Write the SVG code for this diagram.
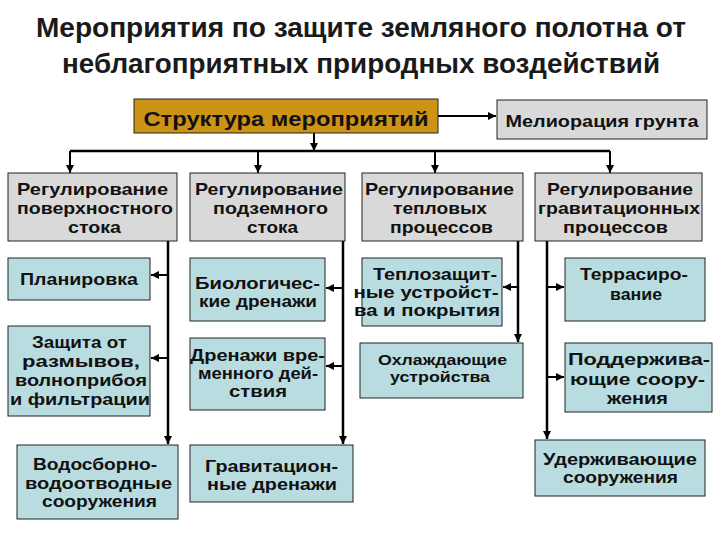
<svg xmlns="http://www.w3.org/2000/svg" width="720" height="540" viewBox="0 0 720 540">
<style>
.t{font-family:"Liberation Sans Narrow","Liberation Sans",Arial,sans-serif;font-weight:bold;font-size:28px;fill:#1a1a1a;text-anchor:middle}
.b{font-family:"Liberation Sans",Arial,sans-serif;font-weight:bold;font-size:17px;fill:#111;text-anchor:middle}
.m{font-size:16px}
.s{font-size:14.5px}
.gold{fill:#CD9317;stroke:#222;stroke-width:1}
.gray{fill:#D9D9D9;stroke:#222;stroke-width:1}
.blue{fill:#B9DCE0;stroke:#222;stroke-width:1}
.c{stroke:#000;stroke-width:2.5;fill:none}
.a{stroke:#000;stroke-width:2;fill:none}
</style>
<defs>
<marker id="ar" viewBox="0 0 10 10" refX="10" refY="5" markerWidth="9" markerHeight="8" markerUnits="userSpaceOnUse" orient="auto">
<path d="M0,0 L10,5 L0,10 z" fill="#000"/>
</marker>
</defs>
<rect width="720" height="540" fill="#fff"/>
<g id="title">
<text class="t" x="361" y="37" textLength="650" lengthAdjust="spacingAndGlyphs">Мероприятия по защите земляного полотна от</text>
<text class="t" x="361" y="73" textLength="598" lengthAdjust="spacingAndGlyphs">неблагоприятных природных воздействий</text>
</g>
<g id="connectors">
<line class="a" x1="438" y1="116" x2="496" y2="116" marker-end="url(#ar)"/>
<line class="a" x1="314" y1="133" x2="314" y2="151" marker-end="url(#ar)"/>
<line class="c" x1="70" y1="151" x2="610" y2="151"/>
<line class="a" x1="70" y1="151" x2="70" y2="173" marker-end="url(#ar)"/>
<line class="a" x1="258" y1="151" x2="258" y2="173" marker-end="url(#ar)"/>
<line class="a" x1="435" y1="151" x2="435" y2="173" marker-end="url(#ar)"/>
<line class="a" x1="610" y1="151" x2="610" y2="173" marker-end="url(#ar)"/>
<line class="c" x1="168" y1="241" x2="168" y2="444" marker-end="url(#ar)"/>
<line class="a" x1="168" y1="275" x2="151" y2="275" marker-end="url(#ar)"/>
<line class="a" x1="168" y1="358" x2="151" y2="358" marker-end="url(#ar)"/>
<line class="c" x1="343" y1="241" x2="343" y2="444" marker-end="url(#ar)"/>
<line class="a" x1="343" y1="288" x2="326" y2="288" marker-end="url(#ar)"/>
<line class="a" x1="343" y1="366" x2="326" y2="366" marker-end="url(#ar)"/>
<line class="c" x1="518" y1="241" x2="518" y2="342" marker-end="url(#ar)"/>
<line class="a" x1="518" y1="287" x2="503" y2="287" marker-end="url(#ar)"/>
<line class="c" x1="547" y1="241" x2="547" y2="439" marker-end="url(#ar)"/>
<line class="a" x1="547" y1="287" x2="564" y2="287" marker-end="url(#ar)"/>
<line class="a" x1="547" y1="377" x2="564" y2="377" marker-end="url(#ar)"/>
</g>
<g id="struct">
<rect class="gold" x="134" y="99" width="304" height="34"/>
<text class="b" x="286" y="126" style="font-size:20px" textLength="285" lengthAdjust="spacingAndGlyphs">Структура мероприятий</text>
</g>
<g id="melior">
<rect class="gray" x="497" y="100" width="210" height="39"/>
<text class="b" x="602" y="127" style="font-size:16px" textLength="193" lengthAdjust="spacingAndGlyphs">Мелиорация грунта</text>
</g>
<g id="reg1">
<rect class="gray" x="8" y="173" width="169" height="68"/>
<text class="b" x="92.5" y="195" textLength="151" lengthAdjust="spacingAndGlyphs">Регулирование</text>
<text class="b" x="95" y="214" textLength="156" lengthAdjust="spacingAndGlyphs">поверхностного</text>
<text class="b" x="94.5" y="233" textLength="53" lengthAdjust="spacingAndGlyphs">стока</text>
</g>
<g id="reg2">
<rect class="gray" x="190" y="173" width="155" height="68"/>
<text class="b" x="269" y="195" textLength="148" lengthAdjust="spacingAndGlyphs">Регулирование</text>
<text class="b" x="270.5" y="214" textLength="115" lengthAdjust="spacingAndGlyphs">подземного</text>
<text class="b" x="272.5" y="233" textLength="51" lengthAdjust="spacingAndGlyphs">стока</text>
</g>
<g id="reg3">
<rect class="gray" x="362" y="173" width="161" height="68"/>
<text class="b" x="439.5" y="195" textLength="149" lengthAdjust="spacingAndGlyphs">Регулирование</text>
<text class="b" x="440" y="214" textLength="94" lengthAdjust="spacingAndGlyphs">тепловых</text>
<text class="b" x="441.5" y="233" textLength="103" lengthAdjust="spacingAndGlyphs">процессов</text>
</g>
<g id="reg4">
<rect class="gray" x="535" y="173" width="167" height="68"/>
<text class="b" x="620" y="195" textLength="146" lengthAdjust="spacingAndGlyphs">Регулирование</text>
<text class="b" x="619" y="214" textLength="162" lengthAdjust="spacingAndGlyphs">гравитационных</text>
<text class="b" x="615.5" y="233" textLength="105" lengthAdjust="spacingAndGlyphs">процессов</text>
</g>
<g id="plan">
<rect class="blue" x="8" y="258" width="142" height="42"/>
<text class="b" x="79" y="285" textLength="118" lengthAdjust="spacingAndGlyphs">Планировка</text>
</g>
<g id="zashch">
<rect class="blue" x="8" y="326" width="142" height="90"/>
<text class="b" x="79.5" y="348" textLength="95" lengthAdjust="spacingAndGlyphs">Защита от</text>
<text class="b" x="81" y="367" textLength="118" lengthAdjust="spacingAndGlyphs">размывов,</text>
<text class="b" x="81" y="386" textLength="132" lengthAdjust="spacingAndGlyphs">волноприбоя</text>
<text class="b" x="80" y="405" textLength="140" lengthAdjust="spacingAndGlyphs">и фильтрации</text>
</g>
<g id="vodosb">
<rect class="blue" x="17" y="445" width="161" height="74"/>
<text class="b m" x="95" y="470" textLength="124" lengthAdjust="spacingAndGlyphs">Водосборно-</text>
<text class="b m" x="98.5" y="489" textLength="147" lengthAdjust="spacingAndGlyphs">водоотводные</text>
<text class="b m" x="99.5" y="507" textLength="115" lengthAdjust="spacingAndGlyphs">сооружения</text>
</g>
<g id="bio">
<rect class="blue" x="190" y="258" width="135" height="63"/>
<text class="b m" x="257.5" y="289" textLength="125" lengthAdjust="spacingAndGlyphs">Биологичес-</text>
<text class="b m" x="258" y="307" textLength="118" lengthAdjust="spacingAndGlyphs">кие дренажи</text>
</g>
<g id="vrem">
<rect class="blue" x="190" y="338" width="135" height="72"/>
<text class="b m" x="257.5" y="361" textLength="135" lengthAdjust="spacingAndGlyphs">Дренажи вре-</text>
<text class="b m" x="258" y="379" textLength="120" lengthAdjust="spacingAndGlyphs">менного дей-</text>
<text class="b m" x="258" y="397" textLength="58" lengthAdjust="spacingAndGlyphs">ствия</text>
</g>
<g id="grav">
<rect class="blue" x="190" y="445" width="163" height="57"/>
<text class="b m" x="271.5" y="472" textLength="133" lengthAdjust="spacingAndGlyphs">Гравитацион-</text>
<text class="b m" x="272" y="490" textLength="130" lengthAdjust="spacingAndGlyphs">ные дренажи</text>
</g>
<g id="teplo">
<rect class="blue" x="362" y="258" width="140" height="68"/>
<text class="b m" x="435" y="280" textLength="124" lengthAdjust="spacingAndGlyphs">Теплозащит-</text>
<text class="b m" x="426" y="298" textLength="145" lengthAdjust="spacingAndGlyphs">ные устройст-</text>
<text class="b m" x="427" y="316" textLength="146" lengthAdjust="spacingAndGlyphs">ва и покрытия</text>
</g>
<g id="ohl">
<rect class="blue" x="360" y="343" width="163" height="55"/>
<text class="b s" x="442.5" y="365" textLength="129" lengthAdjust="spacingAndGlyphs">Охлаждающие</text>
<text class="b s" x="440" y="382" textLength="100" lengthAdjust="spacingAndGlyphs">устройства</text>
</g>
<g id="terr">
<rect class="blue" x="565" y="258" width="140" height="63"/>
<text class="b" x="634" y="280" textLength="108" lengthAdjust="spacingAndGlyphs">Террасиро-</text>
<text class="b" x="636" y="300" textLength="52" lengthAdjust="spacingAndGlyphs">вание</text>
</g>
<g id="podd">
<rect class="blue" x="565" y="343" width="147" height="69"/>
<text class="b" x="639" y="365" textLength="142" lengthAdjust="spacingAndGlyphs">Поддержива-</text>
<text class="b" x="637.5" y="385" textLength="135" lengthAdjust="spacingAndGlyphs">ющие соору-</text>
<text class="b" x="637.5" y="404" textLength="61" lengthAdjust="spacingAndGlyphs">жения</text>
</g>
<g id="uderzh">
<rect class="blue" x="535" y="440" width="170" height="56"/>
<text class="b m" x="620" y="465" textLength="154" lengthAdjust="spacingAndGlyphs">Удерживающие</text>
<text class="b m" x="620.5" y="483" textLength="115" lengthAdjust="spacingAndGlyphs">сооружения</text>
</g>
</svg>
